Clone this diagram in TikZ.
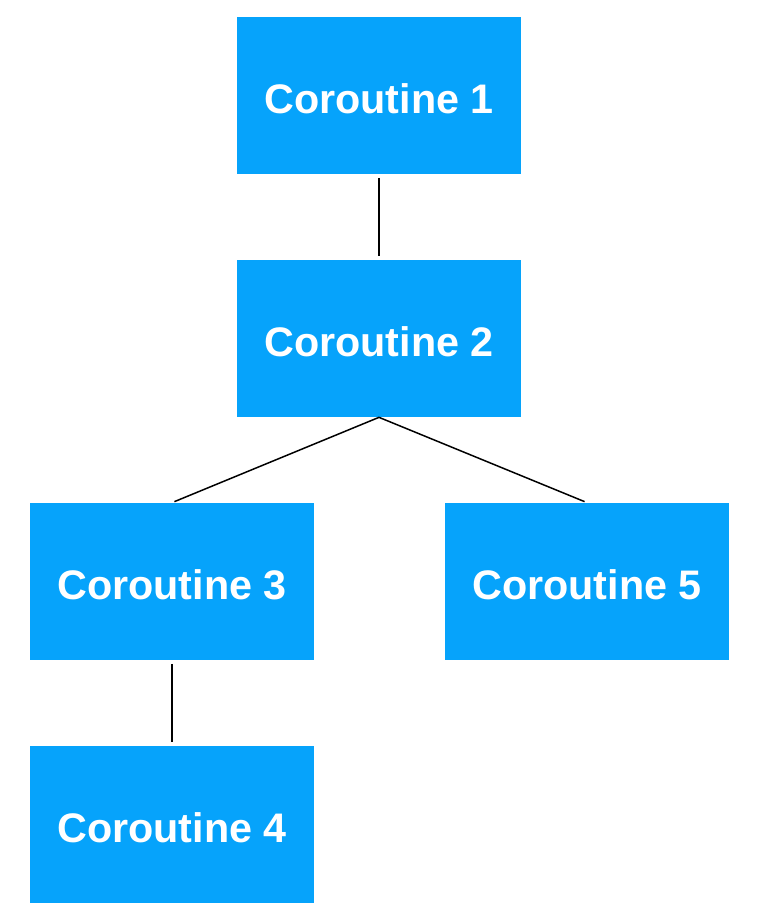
\documentclass[tikz,border=0pt]{standalone}
\usepackage{fontspec}
\setmainfont{Liberation Sans}
\definecolor{coblue}{HTML}{06A3FB}
\begin{document}
\begin{tikzpicture}[
	corobox/.style={fill=coblue, text=white, minimum width=5.68cm, minimum height=3.14cm, inner sep=0pt, text height=20pt, text depth=0pt, font=\fontsize{23.5}{27}\selectfont\bfseries},
	link/.style={draw=black, line width=0.85pt}
	]
	\useasboundingbox (0,0) rectangle (15.16,18.4);
	% Các khối coroutine
	\node[corobox] (c1) at (7.58,16.49) {Coroutine 1};
	\node[corobox] (c2) at (7.58,11.63) {Coroutine 2};
	\node[corobox] (c3) at (3.44,6.77) {Coroutine 3};
	\node[corobox] (c5) at (11.74,6.77) {Coroutine 5};
	\node[corobox] (c4) at (3.44,1.91) {Coroutine 4};
	% Các đường nối
	\draw[link, shorten <=2pt, shorten >=2pt] (c1.south) -- (c2.north);
	\draw[link, shorten >=1.5pt] (c2.south) -- (c3.north);
	\draw[link, shorten >=1.5pt] (c2.south) -- (c5.north);
	\draw[link, shorten <=2pt, shorten >=2pt] (c3.south) -- (c4.north);
\end{tikzpicture}
\end{document}
